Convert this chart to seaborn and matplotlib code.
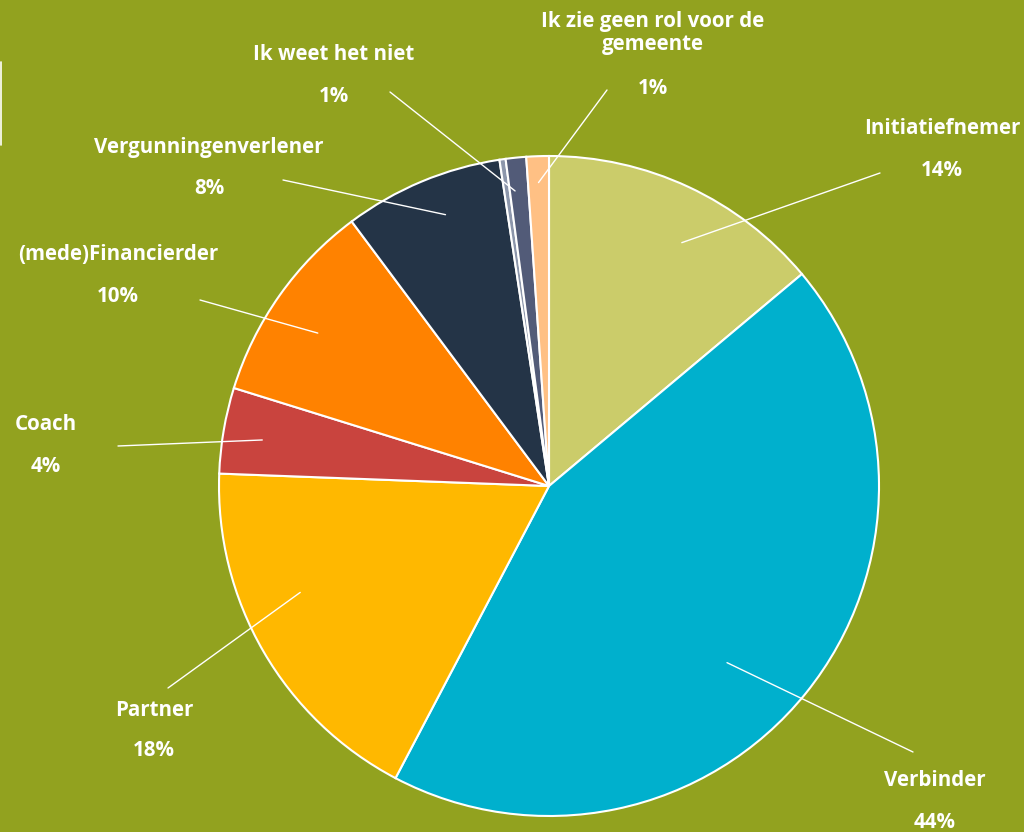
import numpy as np
import matplotlib
matplotlib.use("Agg")
import matplotlib.pyplot as plt
import seaborn as sns

# data (clockwise from top)
categories = [
    "Initiatiefnemer", "Verbinder", "Partner", "Coach", "(mede)Financierder",
    "Vergunningenverlener", "", "Ik weet het niet", "Ik zie geen rol voor de\ngemeente",
]
shares = [13.9, 43.8, 17.9, 4.2, 10.0, 7.8, 0.3, 1.0, 1.1]
pct_labels = ["14%", "44%", "18%", "4%", "10%", "8%", "", "1%", "1%"]

colors = ["#CBCC6A", "#00B0CD", "#FFB800", "#C9443E", "#FF8200",
          "#243447", "#8C96AB", "#525B78", "#FFC084"]
BG = "#92A21F"

# layout in pixel coords (y from top):
# text centre x, name y, pct y, leader end, leader start radius, clockwise angle shift (deg)
LAYOUT = {
    "Initiatiefnemer":      (942, 128, 170, (880, 173), 0.84, 3.6),
    "Verbinder":            (935, 781, 822, (913, 752), 0.76, 5.9),
    "Partner":              (154, 710, 751, (168, 688), 0.82, 6.9),
    "Coach":                (46, 424, 466, (118, 446), 0.88, -0.6),
    "(mede)Financierder":   (118, 255, 297, (200, 300), 0.84, -1.8),
    "Vergunningenverlener": (209, 147, 189, (283, 180), 0.88, 1.8),
    "Ik weet het niet":     (334, 55, 97, (390, 92), 0.90, -0.8),
    "Ik zie geen rol voor de\ngemeente": (653, 33, 88, (607, 90), 0.92, 0.0),
}

W, H = 1024, 832
CX, CY, R = 549, 486, 330

sns.set_theme(style="white")
plt.rcParams["font.family"] = ["Open Sans", "DejaVu Sans"]

fig = plt.figure(figsize=(W / 100, H / 100), dpi=100)
fig.patch.set_facecolor(BG)
ax = fig.add_axes([0, 0, 1, 1])
ax.set_facecolor(BG)

wedges, _ = ax.pie(
    shares, colors=colors, startangle=90, counterclock=False,
    center=(CX, H - CY), radius=R,
    wedgeprops=dict(edgecolor="white", linewidth=1.5),
)
ax.set_xlim(0, W)
ax.set_ylim(0, H)
ax.set_aspect("auto")
ax.axis("off")

for w, name, pct in zip(wedges, categories, pct_labels):
    if name not in LAYOUT:
        continue
    tx, ny, py, (ex, ey), rf, shift = LAYOUT[name]
    mid = np.deg2rad((w.theta1 + w.theta2) / 2 - shift)
    sx = CX + rf * R * np.cos(mid)
    sy = (H - CY) + rf * R * np.sin(mid)
    ax.plot([sx, ex], [sy, H - ey], color="white", lw=1.0)
    ax.text(tx, H - ny, name, ha="center", va="center", color="white",
            fontsize=14.8, fontweight="bold", linespacing=1.15)
    ax.text(tx, H - py, pct, ha="center", va="center", color="white",
            fontsize=14.8, fontweight="bold")

# thin white mark at the left edge
ax.plot([1, 1], [H - 62, H - 145], color="white", lw=1.2)

fig.savefig("out.png", dpi=100, facecolor=BG)
